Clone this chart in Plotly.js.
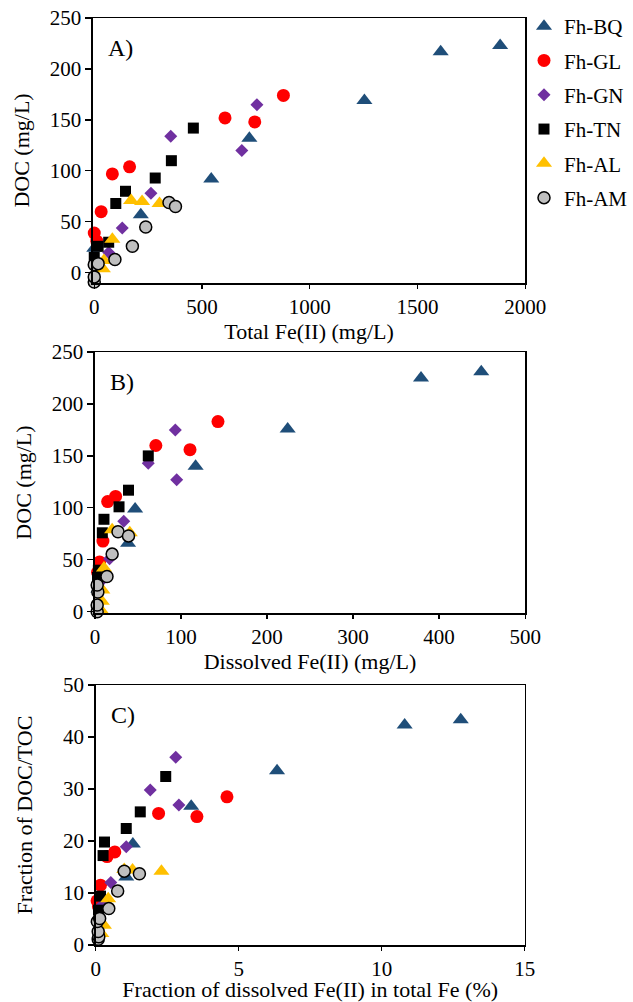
<!DOCTYPE html>
<html><head><meta charset="utf-8">
<script src="https://cdn.plot.ly/plotly-3.0.1.min.js"></script>
<style>html,body{margin:0;padding:0;background:#fff}#plot{width:633px;height:1002px}</style>
</head><body><div id="plot"></div>
<script>
// Series names
const seriesNames = ["Fh-BQ","Fh-GL","Fh-GN","Fh-TN","Fh-AL","Fh-AM"];

// Panel A: Total Fe(II) (mg/L) vs DOC (mg/L)
const A_BQ_x = [0, 216, 543, 720, 1254, 1608, 1884];
const A_BQ_y = [24, 57, 92, 132, 169, 217, 223];
const A_GL_x = [0, 12, 32, 84, 164, 607, 745, 878];
const A_GL_y = [39, 31, 60, 97, 104, 152, 148, 174];
const A_GN_x = [67, 130, 263, 355, 685, 755];
const A_GN_y = [20, 44, 78, 134, 120, 165];
const A_TN_x = [0, 18, 67, 100, 145, 283, 358, 460];
const A_TN_y = [15, 26, 30, 68, 80, 93, 110, 142];
const A_AL_x = [40, 45, 84, 171, 222, 303];
const A_AL_y = [4, 12, 33, 71, 70, 68];
const A_AM_x = [0, 0, 0, 18, 96, 177, 239, 347, 377];
const A_AM_y = [-9, -4, 8, 9, 13, 26, 45, 69, 65];

// Panel B: Dissolved Fe(II) (mg/L) vs DOC (mg/L)
const B_BQ_x = [4, 38.5, 46.7, 117, 224, 379, 449];
const B_BQ_y = [22, 66, 99, 140, 176, 225, 231];
const B_GL_x = [3, 5.4, 9.3, 14.8, 24, 70.8, 110.5, 143];
const B_GL_y = [38, 48, 68, 106, 111, 160, 156, 183];
const B_GN_x = [8, 17, 33.5, 62, 93.4, 95];
const B_GN_y = [30, 51, 87, 143, 175, 127];
const B_TN_x = [3, 4, 8.6, 10.5, 28, 39, 62];
const B_TN_y = [33, 40, 76, 89, 101, 117, 150];
const B_AL_x = [6.6, 8, 8.6, 10.5, 20, 40.5];
const B_AL_y = [2, 10, 21, 42, 79, 76];
const B_AM_x = [2.6, 2.6, 3.4, 2.6, 14, 20, 26.8, 39];
const B_AM_y = [0, 6.4, 19, 25.7, 34, 55.5, 77, 73];

// Panel C: Fraction of dissolved Fe(II) in total Fe (%) vs Fraction of DOC/TOC
const C_BQ_x = [0.1, 1.07, 1.3, 3.34, 6.34, 10.8, 12.76];
const C_BQ_y = [5, 13.1, 19.4, 26.7, 33.5, 42.3, 43.3];
const C_GL_x = [0.05, 0.1, 0.17, 0.4, 0.67, 2.2, 3.54, 4.59];
const C_GL_y = [8.5, 7.4, 11.5, 17, 17.9, 25.3, 24.7, 28.5];
const C_GN_x = [0.23, 0.53, 1.07, 1.91, 2.8, 2.91];
const C_GN_y = [7.7, 12, 18.9, 29.8, 36.1, 26.9];
const C_TN_x = [0.1, 0.17, 0.26, 0.31, 1.07, 1.56, 2.45];
const C_TN_y = [6.7, 9.4, 17.2, 19.8, 22.4, 25.6, 32.4];
const C_AL_x = [0.2, 0.29, 0.44, 1.0, 1.29, 2.3];
const C_AL_y = [2.2, 3.8, 8.9, 14.5, 14.4, 14.2];
const C_AM_x = [0.09, 0.11, 0.09, 0.06, 0.14, 0.46, 0.77, 1.0, 1.53];
const C_AM_y = [1.1, 1.6, 2.6, 4.5, 5.1, 7, 10.4, 14.2, 13.7];

const panelLabels = ["A)", "B)", "C)"];
const xTitles = ["Total Fe(II) (mg/L)", "Dissolved Fe(II) (mg/L)", "Fraction of dissolved Fe(II) in total Fe (%)"];
const yTitles = ["DOC (mg/L)", "DOC (mg/L)", "Fraction of DOC/TOC"];

const styles = [
  {symbol:"triangle-up", color:"#1F4E79", size:14, line:{width:0}},
  {symbol:"circle", color:"#FF0000", size:13, line:{width:0}},
  {symbol:"diamond", color:"#7030A0", size:10, line:{width:0}},
  {symbol:"square", color:"#000000", size:11, line:{width:0}},
  {symbol:"triangle-up", color:"#FFC000", size:14, line:{width:0}},
  {symbol:"circle", color:"#BFBFBF", size:12, line:{width:1.5, color:"#000000"}}
];

const panels = [
  [[A_BQ_x,A_BQ_y],[A_GL_x,A_GL_y],[A_GN_x,A_GN_y],[A_TN_x,A_TN_y],[A_AL_x,A_AL_y],[A_AM_x,A_AM_y]],
  [[B_BQ_x,B_BQ_y],[B_GL_x,B_GL_y],[B_GN_x,B_GN_y],[B_TN_x,B_TN_y],[B_AL_x,B_AL_y],[B_AM_x,B_AM_y]],
  [[C_BQ_x,C_BQ_y],[C_GL_x,C_GL_y],[C_GN_x,C_GN_y],[C_TN_x,C_TN_y],[C_AL_x,C_AL_y],[C_AM_x,C_AM_y]]
];

const traces = [];
panels.forEach((p, pi) => {
  p.forEach((s, si) => {
    const st = styles[si];
    traces.push({
      type: "scatter", mode: "markers",
      x: s[0], y: s[1],
      name: seriesNames[si],
      legendgroup: seriesNames[si],
      showlegend: pi === 0,
      xaxis: pi === 0 ? "x" : "x" + (pi + 1),
      yaxis: pi === 0 ? "y" : "y" + (pi + 1),
      marker: {symbol: st.symbol, color: st.color, size: st.size, line: st.line},
      cliponaxis: false
    });
  });
});

const W = 633, H = 1002;
const FAM = "Liberation Serif";
const font = {family: FAM, size: 21, color: "#000"};
function xa(range, dtick, px0, px1, title, anchor, standoff) {
  return {domain:[px0/W, px1/W], range: range, dtick: dtick, tick0: 0, anchor: anchor,
    showline:true, linecolor:"#000", linewidth:1.5, mirror:true, ticks:"outside", ticklen:4,
    tickwidth:1.2, tickcolor:"#000", showgrid:false, zeroline:false, tickfont:font,
    title:{text:title, font:{family:FAM, size:22, color:"#000"}, standoff:standoff}};
}
function ya(range, dtick, py0, py1, title, anchor, standoff) {
  return {domain:[1 - py1/H, 1 - py0/H], range: range, dtick: dtick, tick0: 0, anchor: anchor,
    showline:true, linecolor:"#000", linewidth:1.5, mirror:true, ticks:"outside", ticklen:6,
    tickwidth:1.2, tickcolor:"#000", showgrid:false, zeroline:false, tickfont:font,
    title:{text:title, font:{family:FAM, size:22, color:"#000"}, standoff:standoff}};
}

const layout = {
  width: W, height: H,
  margin: {l:0, r:0, t:0, b:0},
  paper_bgcolor: "#fff", plot_bgcolor: "#fff",
  font: font,
  xaxis: xa([-6, 2000], 500, 94, 531, xTitles[0], "y", 5),
  yaxis: ya([-10, 250], 50, 18, 283, yTitles[0], "x", 14),
  xaxis2: xa([0, 500], 100, 96, 531, xTitles[1], "y2", 5),
  yaxis2: ya([-1.2, 250], 50, 352, 613, yTitles[1], "x2", 14),
  xaxis3: xa([0, 15], 5, 96.7, 530.7, xTitles[2], "y3", 5),
  yaxis3: ya([0, 50], 10, 685, 945, yTitles[2], "x3", 24),
  showlegend: true,
  legend: {x: 530/W, y: 1 - 6/H, xanchor: "left", yanchor: "top", traceorder: "grouped",
    tracegroupgap: 4, font: {family: FAM, size: 21, color: "#000"},
    bgcolor: "rgba(0,0,0,0)", borderwidth: 0},
  annotations: panelLabels.map((t, i) => ({
    text: t, showarrow: false, xref: ["x","x2","x3"][i] + " domain", yref: ["y","y2","y3"][i] + " domain",
    x: 0.03, y: 0.885, xanchor: "left", yanchor: "middle",
    font: {family: FAM, size: 24, color: "#000"}
  }))
};

Plotly.newPlot("plot", traces, layout, {staticPlot: true, displayModeBar: false});
</script>
</body></html>
